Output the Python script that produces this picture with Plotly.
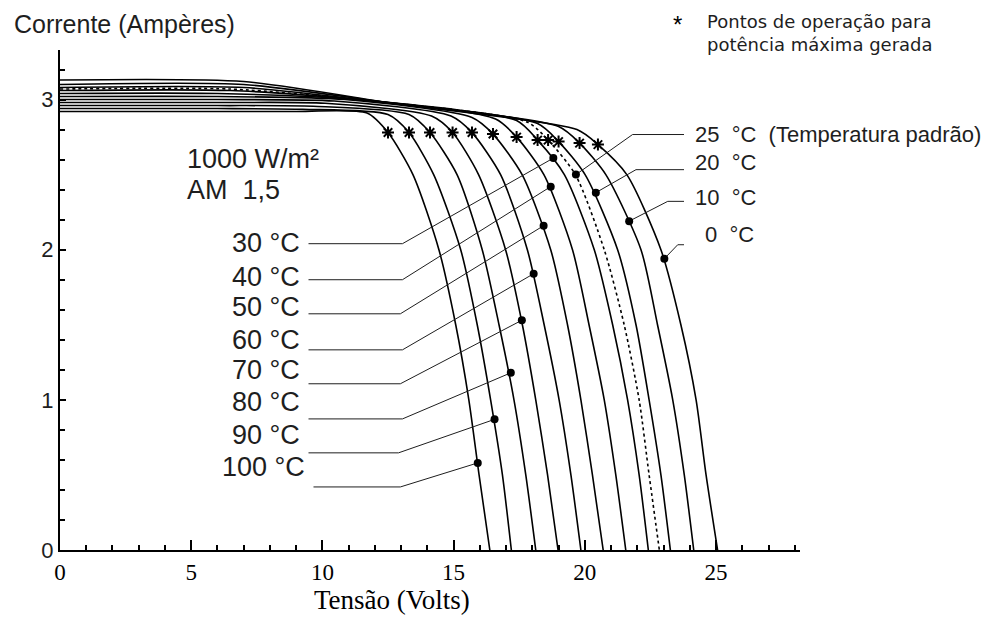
import plotly.graph_objects as go

# temperaturas das curvas (da esquerda para a direita)
temps = [100, 90, 80, 70, 60, 50, 40, 30, 25, 20, 10, 0]

# trecho superior de cada curva (V, I)
isc = [2.92, 2.94, 2.96, 2.98, 3.00, 3.02, 3.04, 3.06, 3.07, 3.08, 3.10, 3.13]
v_flat = [6, 6, 6, 6, 6, 6, 6, 6.5, 6.5, 7, 7, 7]
i_flat = [2.92, 2.94, 2.96, 2.98, 3.00, 3.02, 3.04, 3.06, 3.07, 3.08, 3.10, 3.12]
v_mid = [8.85, 9.25, 9.65, 10.1, 10.45, 10.85, 11.3, 11.7, 11.9, 12.1, 12.5, 12.85]
i_mid = [2.92, 2.935, 2.955, 2.975, 2.99, 3.0, 3.0, 2.995, 2.99, 2.985, 2.98, 2.97]
v_knee = [11.7, 12.5, 13.3, 14.16, 14.9, 15.7, 16.6, 17.4, 17.8, 18.2, 19.0, 19.7]
i_knee = [2.91, 2.9, 2.9, 2.89, 2.89, 2.88, 2.87, 2.86, 2.85, 2.84, 2.82, 2.80]

# pontos de potencia maxima (asteriscos)
v_star = [12.5, 13.3, 14.1, 14.96, 15.7, 16.5, 17.4, 18.2, 18.6, 19.0, 19.8, 20.5]
i_star = [2.78, 2.78, 2.78, 2.78, 2.78, 2.77, 2.75, 2.73, 2.73, 2.72, 2.71, 2.70]

# tensao onde cada curva cruza os niveis de corrente abaixo
i_levels = [2.5, 2.0, 1.5, 1.0, 0.5, 0.0]
v_25 = [13.45, 14.24, 15.13, 15.95, 16.79, 17.61, 18.44, 19.22, 19.64, 20.01, 20.8, 21.6]
v_20 = [14.44, 15.27, 16.09, 16.98, 17.81, 18.7, 19.53, 20.36, 20.74, 21.25, 22.14, 22.9]
v_15 = [15.08, 15.9, 16.73, 17.62, 18.45, 19.34, 20.16, 21.06, 21.5, 21.95, 22.77, 23.66]
v_10 = [15.58, 16.41, 17.3, 18.13, 19.02, 19.85, 20.74, 21.63, 22.07, 22.45, 23.35, 24.24]
v_05 = [15.97, 16.86, 17.75, 18.58, 19.47, 20.29, 21.18, 22.07, 22.45, 22.9, 23.79, 24.62]
voc = [16.38, 17.2, 18.13, 18.98, 19.85, 20.7, 21.56, 22.42, 22.84, 23.26, 24.15, 25.06]

# pontos marcados (bolinhas) onde chegam as linhas de chamada
dot_v = [15.92, 16.56, 17.18, 17.6, 18.05, 18.43, 18.7, 18.8, 19.66, 20.42, 21.69, 23.03]
dot_i = [0.58, 0.87, 1.18, 1.53, 1.84, 2.16, 2.42, 2.61, 2.5, 2.38, 2.19, 1.94]

# rotulos da esquerda (30..100 C)
left_names = ["30 °C", "40 °C", "50 °C", "60 °C", "70 °C", "80 °C", "90 °C", "100 °C"]
left_dot = [7, 6, 5, 4, 3, 2, 1, 0]
left_text_v = [9.22, 9.22, 9.22, 9.22, 9.22, 9.22, 9.22, 9.41]
left_text_i = [2.047, 1.82, 1.62, 1.4, 1.2, 0.987, 0.767, 0.553]
left_line_v0 = [9.47, 9.47, 9.47, 9.47, 9.47, 9.47, 9.47, 9.66]
left_line_v1 = [13.05, 13.05, 12.97, 13.05, 12.97, 13.05, 12.9, 12.97]
left_line_i = [2.04, 1.8, 1.573, 1.333, 1.107, 0.873, 0.647, 0.42]

# rotulos da direita (25, 20, 10, 0 C)
right_names = ["25\u00a0 °C \u00a0(Temperatura padrão)", "20\u00a0 °C", "10\u00a0 °C", "0\u00a0 °C"]
right_dot = [8, 9, 10, 11]
right_text_v = [24.12, 24.12, 24.12, 24.5]
right_text_i = [2.767, 2.58, 2.347, 2.1]
right_line_v0 = [23.78, 23.78, 23.78, 23.78]
right_line_v1 = [21.82, 21.95, 23.16, 23.54]
right_line_i = [2.767, 2.533, 2.322, 2.033]

SANS = "Liberation Sans, Arial, sans-serif"
WIDE = "DejaVu Sans, Verdana, sans-serif"
SERIF = "Liberation Serif, Times New Roman, serif"
INK = "#1e1e1e"

fig = go.Figure()

for k, t in enumerate(temps):
    vs = [0, v_flat[k], v_mid[k], v_knee[k], v_star[k],
          v_25[k], v_20[k], v_15[k], v_10[k], v_05[k], voc[k]]
    cs = [isc[k], i_flat[k], i_mid[k], i_knee[k], i_star[k]] + i_levels
    fig.add_trace(go.Scatter(
        x=vs, y=cs, mode="lines", name=f"{t} °C",
        line=dict(color="black", width=1.6, shape="spline", smoothing=0.7,
                  dash="3px,3px" if t == 25 else "solid"),
        hoverinfo="skip"))

# linhas de chamada
for k, d in enumerate(left_dot):
    fig.add_trace(go.Scatter(
        x=[left_line_v0[k], left_line_v1[k], dot_v[d]],
        y=[left_line_i[k], left_line_i[k], dot_i[d]],
        mode="lines", line=dict(color=INK, width=1), hoverinfo="skip"))
for k, d in enumerate(right_dot):
    fig.add_trace(go.Scatter(
        x=[right_line_v0[k], right_line_v1[k], dot_v[d]],
        y=[right_line_i[k], right_line_i[k], dot_i[d]],
        mode="lines", line=dict(color=INK, width=1), hoverinfo="skip"))

fig.add_trace(go.Scatter(x=dot_v, y=dot_i, mode="markers",
                         marker=dict(color="black", size=8), hoverinfo="skip"))
fig.add_trace(go.Scatter(x=v_star, y=i_star, mode="markers",
                         marker=dict(symbol="asterisk-open", size=10, color="black",
                                     line=dict(color="black", width=2)),
                         hoverinfo="skip"))

for k, name in enumerate(left_names):
    fig.add_annotation(x=left_text_v[k], y=left_text_i[k], text=name,
                       xanchor="right", showarrow=False,
                       font=dict(family=SANS, size=27, color=INK))
for k, name in enumerate(right_names):
    fig.add_annotation(x=right_text_v[k], y=right_text_i[k], text=name,
                       xanchor="left", showarrow=False,
                       font=dict(family=SANS, size=22, color=INK))

fig.add_annotation(x=4.76, y=2.607, text="1000 W/m²", xanchor="left",
                   showarrow=False, font=dict(family=SANS, size=27, color=INK))
fig.add_annotation(x=4.76, y=2.4, text="AM\u00a0 1,5", xanchor="left",
                   showarrow=False, font=dict(family=SANS, size=27, color=INK))

# textos fora da area do grafico (coordenadas de papel)
fig.add_annotation(xref="paper", yref="paper", x=-0.065, y=1.052,
                   text="Corrente (Ampères)", xanchor="left", yanchor="middle",
                   showarrow=False, font=dict(family=SANS, size=25, color=INK))
fig.add_annotation(xref="paper", yref="paper", x=0.4486, y=-0.1,
                   text="Tensão (Volts)", xanchor="center", yanchor="middle",
                   showarrow=False, font=dict(family=SERIF, size=27, color="black"))
fig.add_annotation(xref="paper", yref="paper", x=0.835, y=1.05, text="*",
                   xanchor="center", yanchor="middle", showarrow=False,
                   font=dict(family=SANS, size=24, color="black"))
fig.add_annotation(xref="paper", yref="paper", x=0.8716, y=1.035,
                   text="Pontos de operação para<br>potência máxima gerada",
                   xanchor="left", yanchor="middle", align="left", showarrow=False,
                   font=dict(family=WIDE, size=18, color=INK))

fig.update_xaxes(range=[0, 28.2], dtick=5, tick0=0, ticks="inside", ticklen=10,
                 tickwidth=1.5, tickcolor="black", showline=True, linecolor="black",
                 linewidth=2, showgrid=False, zeroline=False,
                 tickfont=dict(family=SERIF, size=23, color="black"),
                 minor=dict(dtick=1, ticks="inside", ticklen=5, tickcolor="black"))
fig.update_yaxes(range=[0, 3.33], dtick=1, tick0=0, ticks="inside", ticklen=6,
                 tickwidth=1.5, tickcolor="black", showline=True, linecolor="black",
                 linewidth=2, showgrid=False, zeroline=False,
                 tickfont=dict(family=SANS, size=22, color=INK),
                 minor=dict(dtick=0.2, ticks="inside", ticklen=5, tickcolor="black"))

# a pagina tem 8 px de margem no body: a figura fica 8 px menor
fig.update_layout(width=986, height=624, showlegend=False,
                  margin=dict(l=52, r=194, t=42, b=82),
                  plot_bgcolor="white", paper_bgcolor="white")

fig.write_html("out.html")
